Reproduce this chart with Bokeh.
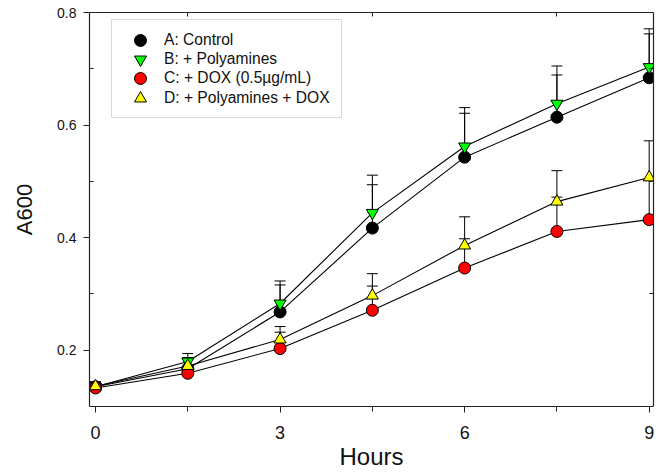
from bokeh.plotting import figure
from bokeh.models import (Range1d, LinearAxis, FixedTicker, Whisker, TeeHead,
                          ColumnDataSource, Legend, LegendItem, BoxAnnotation)
from bokeh.embed import file_html
from bokeh.resources import INLINE

# ---- data ----
hours = [0, 1.5, 3, 4.5, 6, 7.5, 9]
a_control = [0.135, 0.167, 0.268, 0.417, 0.543, 0.614, 0.684]
a_err = [0.008, 0.020, 0.048, 0.077, 0.078, 0.075, 0.078]
b_polyamines = [0.135, 0.180, 0.283, 0.444, 0.562, 0.638, 0.703]
b_err = [0.008, 0.014, 0.040, 0.067, 0.069, 0.067, 0.068]
c_dox = [0.133, 0.159, 0.203, 0.271, 0.346, 0.411, 0.432]
c_err = [0.005, 0.010, 0.029, 0.043, 0.052, 0.061, 0.071]
d_poly_dox = [0.136, 0.172, 0.219, 0.297, 0.386, 0.464, 0.507]
d_err = [0.008, 0.012, 0.023, 0.039, 0.051, 0.055, 0.065]

labels = ["A: Control", "B: + Polyamines", "C: + DOX (0.5\u00b5g/mL)",
          "D: + Polyamines + DOX"]
x_major = [0, 3, 6, 9]
x_minor = [1.5, 4.5, 7.5]
y_major = [0.2, 0.4, 0.6, 0.8]
y_minor = [0.3, 0.5, 0.7]

FONT = "Liberation Sans"
AX = "#222222"

p = figure(width=661, height=472, output_backend="svg", toolbar_location=None,
           x_range=Range1d(-0.098, 9.07), y_range=Range1d(0.1, 0.8),
           x_axis_location=None, y_axis_location=None,
           min_border_left=89, min_border_top=12, min_border_right=8,
           min_border_bottom=65)
p.grid.visible = False
p.outline_line_color = None

# bottom axis
xb = LinearAxis(ticker=FixedTicker(ticks=x_major, minor_ticks=x_minor),
                axis_label="Hours")
xb.major_tick_in = 0
xb.major_tick_out = 6
xb.minor_tick_in = 0
xb.minor_tick_out = 5
xb.major_label_standoff = 13
xb.major_label_text_font = FONT
xb.major_label_text_font_size = "18px"
xb.axis_label_text_font = FONT
xb.axis_label_text_font_size = "24px"
xb.axis_label_text_font_style = "normal"
xb.axis_label_standoff = 1
p.add_layout(xb, "below")

# left axis
yl = LinearAxis(ticker=FixedTicker(ticks=y_major, minor_ticks=y_minor),
                axis_label="A600")
yl.major_tick_in = 0
yl.major_tick_out = 6
yl.minor_tick_in = 4
yl.minor_tick_out = 0
yl.major_label_standoff = 7
yl.major_label_text_font = FONT
yl.major_label_text_font_size = "14px"
yl.axis_label_text_font = FONT
yl.axis_label_text_font_size = "22px"
yl.axis_label_text_font_style = "normal"
yl.axis_label_standoff = 17
p.add_layout(yl, "left")

# top axis (frame with inner minor ticks)
xt = LinearAxis(ticker=FixedTicker(ticks=[], minor_ticks=x_minor))
xt.major_tick_in = 0
xt.major_tick_out = 0
xt.minor_tick_in = 4
xt.minor_tick_out = 0
xt.major_label_standoff = 0
p.add_layout(xt, "above")

# right axis (frame with inner minor ticks)
yr = LinearAxis(ticker=FixedTicker(ticks=[], minor_ticks=y_minor))
yr.major_tick_in = 0
yr.major_tick_out = 0
yr.minor_tick_in = 4
yr.minor_tick_out = 0
yr.major_label_standoff = 0
p.add_layout(yr, "right")

for ax in (xb, yl, xt, yr):
    ax.axis_line_color = AX
    ax.major_tick_line_color = AX
    ax.minor_tick_line_color = AX
    ax.axis_line_width = 1.2
    ax.major_label_text_color = "#111111"
    ax.axis_label_text_color = "#111111"

series = [
    (a_control, a_err, "circle", "#000000"),
    (b_polyamines, b_err, "inverted_triangle", "#00ff00"),
    (c_dox, c_err, "circle", "#ff0000"),
    (d_poly_dox, d_err, "triangle", "#ffff00"),
]

sources = []
for vals, err, marker, color in series:
    src = ColumnDataSource(dict(x=hours, y=vals,
                                upper=[v + e for v, e in zip(vals, err)]))
    sources.append(src)
    w = Whisker(source=src, base="x", lower="y", upper="upper",
                dimension="height", line_color="black", line_width=1,
                upper_head=TeeHead(size=11, line_color="black", line_width=1),
                lower_head=None, level="underlay")
    p.add_layout(w)

for src in sources:
    p.line("x", "y", source=src, line_color="black", line_width=1.1)

renderers = []
for src, (vals, err, marker, color) in zip(sources, series):
    r = p.scatter("x", "y", source=src, marker=marker, size=12,
                  fill_color=color, line_color="black", line_width=1)
    renderers.append(r)

# legend frame (screen units relative to the plot frame)
box = BoxAnnotation(left=22, right=252, bottom=289, top=387,
                    left_units="screen", right_units="screen",
                    bottom_units="screen", top_units="screen",
                    fill_color="white", fill_alpha=1.0,
                    line_color="#808080", line_width=1)
p.add_layout(box)

# one legend row per series, so the legend markers keep their full size
row_bottoms = [351, 332, 313, 293]
for r, lab, yb in zip(renderers, labels, row_bottoms):
    lg = Legend(items=[LegendItem(label=lab, renderers=[r])],
                location=(27, yb))
    lg.border_line_color = None
    lg.background_fill_alpha = 0
    lg.padding = 0
    lg.spacing = 0
    lg.margin = 0
    lg.glyph_width = 48
    lg.glyph_height = 30
    lg.label_height = 30
    lg.label_standoff = 0
    lg.label_text_font = FONT
    lg.label_text_font_size = "15.6px"
    lg.label_text_color = "#111111"
    p.add_layout(lg)

open("out.html", "w").write(file_html(p, INLINE))
